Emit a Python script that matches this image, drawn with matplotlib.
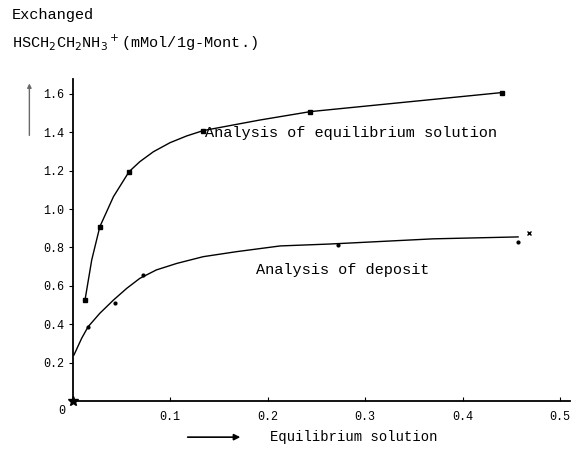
import matplotlib
matplotlib.use("Agg")
import matplotlib.pyplot as plt

# Curves
upper_x = [0.0128, 0.0197, 0.028, 0.042, 0.058, 0.069, 0.083, 0.100, 0.117, 0.134, 0.192, 0.244, 0.440]
upper_y = [0.526, 0.735, 0.908, 1.065, 1.195, 1.247, 1.299, 1.346, 1.381, 1.409, 1.464, 1.508, 1.607]
upper_mx = [0.0128, 0.028, 0.058, 0.134, 0.244, 0.440]
upper_my = [0.526, 0.908, 1.195, 1.409, 1.508, 1.607]

lower_x = [0.0015, 0.0094, 0.016, 0.028, 0.042, 0.0556, 0.069, 0.086, 0.107, 0.134, 0.168, 0.213, 0.264, 0.370, 0.457]
lower_y = [0.24, 0.327, 0.387, 0.457, 0.526, 0.587, 0.639, 0.683, 0.717, 0.752, 0.778, 0.808, 0.818, 0.845, 0.855]
lower_mx = [0.016, 0.0436, 0.0726, 0.272, 0.457]
lower_my = [0.387, 0.509, 0.657, 0.813, 0.83]

extra_x = [0.468]
extra_y = [0.875]

yticks = [0.2, 0.4, 0.6, 0.8, 1.0, 1.2, 1.4, 1.6]
ytick_labels = ["0.2", "0.4", "0.6", "0.8", "1.0", "1.2", "1.4", "1.6"]
xticks = [0.1, 0.2, 0.3, 0.4, 0.5]
xtick_labels = ["0.1", "0.2", "0.3", "0.4", "0.5"]

plt.rcParams['font.family'] = ['Liberation Mono', 'DejaVu Sans Mono']

fig = plt.figure(figsize=(5.76, 4.53), dpi=100)
ax = fig.add_axes([0.1259, 0.1148, 0.8633, 0.7117])

ax.plot(upper_x, upper_y, color="black", lw=1.0)
ax.plot(upper_mx, upper_my, "s", color="black", ms=2.5, ls="none")
ax.plot(lower_x, lower_y, color="black", lw=1.0)
ax.plot(lower_mx, lower_my, "o", color="black", ms=2, ls="none")
ax.plot(extra_x, extra_y, "x", color="black", ms=3, mew=1, ls="none", clip_on=False)
ax.plot([0], [0], "*", color="black", ms=7, clip_on=False)

ax.set_xlim(0, 0.51)
ax.set_ylim(0, 1.68)

ax.spines["top"].set_visible(False)
ax.spines["right"].set_visible(False)
ax.spines["left"].set_linewidth(1.3)
ax.spines["bottom"].set_linewidth(1.3)

ax.set_yticks(yticks)
ax.set_yticklabels(ytick_labels, fontsize=8.5)
ax.set_xticks(xticks)
ax.set_xticklabels(xtick_labels, fontsize=8.5)
ax.tick_params(axis="y", direction="out", length=3, pad=3)
ax.tick_params(axis="x", direction="in", length=3, pad=7)

# origin label
ax.text(-0.007, -0.02, "0", fontsize=8.5, ha="right", va="top")

# curve labels
ax.text(0.136, 1.395, "Analysis of equilibrium solution", fontsize=11, va="center", ha="left")
ax.text(0.188, 0.683, "Analysis of deposit", fontsize=11, va="center", ha="left")

# axis titles
fig.text(0.021, 0.967, "Exchanged", fontsize=11, va="center", ha="left")
fig.text(0.021, 0.905, r"HSCH$_2$CH$_2$NH$_3$$^+$(mMol/1g-Mont.)", fontsize=11, va="center", ha="left")
fig.text(0.469, 0.035, "Equilibrium solution", fontsize=10, va="center", ha="left")

# arrows
fig.patches.append(matplotlib.patches.FancyArrowPatch((0.051, 0.695), (0.051, 0.822), transform=fig.transFigure,
                                                      arrowstyle="-|>", mutation_scale=6, color="dimgray", lw=1))
fig.patches.append(matplotlib.patches.FancyArrowPatch((0.321, 0.035), (0.422, 0.035), transform=fig.transFigure,
                                                      arrowstyle="-|>", mutation_scale=9, color="black", lw=1.2))

plt.savefig("out.png", dpi=100)
